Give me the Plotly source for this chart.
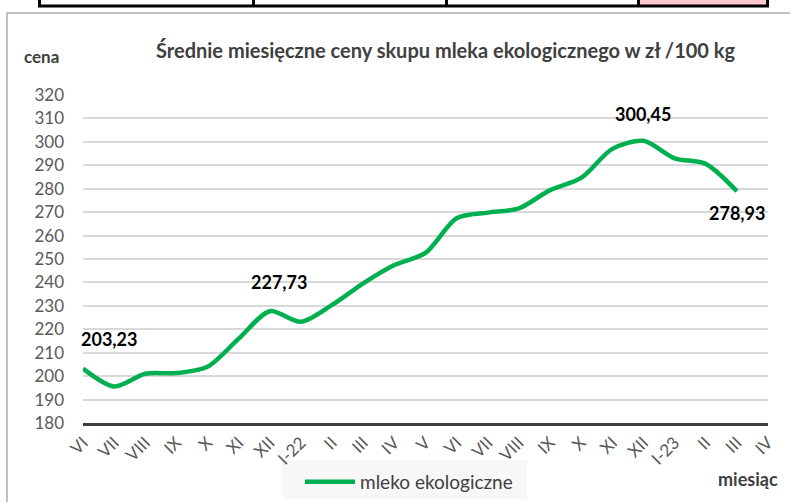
import plotly.graph_objects as go

months = ["VI", "VII", "VIII", "IX", "X", "XI", "XII", "I-22", "II", "III", "IV", "V",
          "VI", "VII", "VIII", "IX", "X", "XI", "XII", "I-23", "II", "III", "IV"]
prices = [203.23, 195.6, 201.0, 201.3, 204.0, 216.0, 227.73, 223.2, 230.4, 239.6, 247.4, 252.6,
          267.4, 269.8, 271.6, 279.4, 284.6, 297.0, 300.45, 293.0, 290.6, 278.93]
labelled = {0: "203,23", 6: "227,73", 18: "300,45", 21: "278,93"}
label_shift = {0: (26, 30), 6: (9, 29), 18: (0, 27), 21: (0, -22)}

W, H = 790, 502
L, R, T, B = 83, 22, 95, 79
PW, PH = W - L - R, H - T - B


def px(x):
    return (x - L) / PW


def py(y):
    return (H - B - y) / PH


xs = list(range(len(prices)))

fig = go.Figure()
fig.add_trace(go.Scatter(
    x=xs, y=prices, mode="lines", name="mleko ekologiczne",
    line=dict(color="#00b050", width=4.5, shape="spline", smoothing=0.8),
    hoverinfo="skip",
))

annotations = []
for i, txt in labelled.items():
    dx, dy = label_shift[i]
    annotations.append(dict(x=xs[i], y=prices[i], xref="x", yref="y", text=txt,
                            showarrow=False, xshift=dx, yshift=dy,
                            xanchor="center", yanchor="middle",
                            font=dict(family="Lato", size=18, color="#000000", weight="bold")))

annotations += [
    dict(x=px(445), y=py(50), xref="paper", yref="paper", showarrow=False,
         xanchor="center", yanchor="middle",
         text="Średnie miesięczne ceny skupu mleka ekologicznego w zł /100 kg",
         font=dict(family="Lato", size=20, color="#404040", weight="bold")),
    dict(x=px(41), y=py(57), xref="paper", yref="paper", showarrow=False, text="cena",
         xanchor="center", yanchor="middle",
         font=dict(family="Lato", size=17, color="#404040", weight="bold")),
    dict(x=px(748), y=py(479), xref="paper", yref="paper", showarrow=False, text="miesiąc",
         xanchor="center", yanchor="middle",
         font=dict(family="Lato", size=18, color="#404040", weight="bold")),
]

shapes = [
    # chart frame
    dict(type="rect", xref="paper", yref="paper", x0=px(7), x1=px(800), y0=py(13), y1=py(520),
         line=dict(color="#c0c0c0", width=2), fillcolor="rgba(0,0,0,0)", layer="below"),
    # table strip on top
    dict(type="rect", xref="paper", yref="paper", x0=px(640), x1=px(766), y0=py(-5), y1=py(5),
         line=dict(width=0), fillcolor="#ffc7ce", layer="below"),
    dict(type="line", xref="paper", yref="paper", x0=px(38), x1=px(769), y0=py(6), y1=py(6),
         line=dict(color="#000000", width=3)),
    # legend background
    dict(type="rect", xref="paper", yref="paper", x0=px(282), x1=px(527), y0=py(460), y1=py(499),
         line=dict(width=0), fillcolor="#f7f7f7", layer="below"),
]
for vx in [39.5, 253.5, 446.5, 638.5, 767.5]:
    shapes.append(dict(type="line", xref="paper", yref="paper", x0=px(vx), x1=px(vx),
                       y0=py(-5), y1=py(7), line=dict(color="#000000", width=3)))

fig.update_layout(
    width=W, height=H,
    margin=dict(l=L, r=R, t=T, b=B, autoexpand=False),
    paper_bgcolor="white", plot_bgcolor="white",
    font=dict(family="Lato", color="#595959"),
    showlegend=True,
    legend=dict(orientation="h", x=300 / W, y=1 - 463 / H, xref="container", yref="container",
                xanchor="left", yanchor="top",
                bgcolor="rgba(0,0,0,0)", font=dict(family="Lato", size=19, color="#404040"),
                itemwidth=50),
    annotations=annotations,
    shapes=shapes,
    xaxis=dict(range=[0, len(months) - 1], tickmode="array", tickvals=list(range(len(months))),
               ticktext=months, tickangle=-45, showgrid=False, zeroline=False, automargin=False,
               showline=True, linecolor="#404040", linewidth=3,
               tickfont=dict(family="Lato", size=17, color="#595959"), ticks=""),
    yaxis=dict(range=[180, 320], dtick=10, showgrid=True, gridcolor="#d9d9d9", gridwidth=1.5,
               zeroline=False, showline=False, ticklabelstandoff=18, automargin=False,
               tickfont=dict(family="Lato", size=17, color="#595959")),
)

fig.write_html("out.html", config={"displayModeBar": False},
               post_script="document.body.style.margin='0';")
